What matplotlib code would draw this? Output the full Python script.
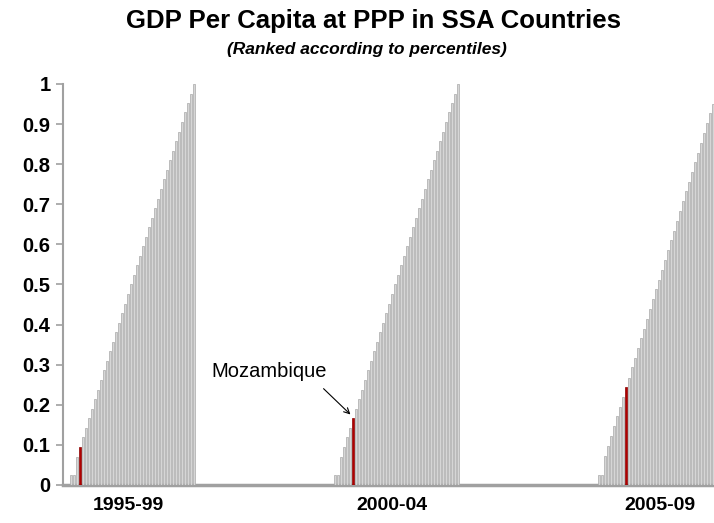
import matplotlib.pyplot as plt

# percentile rank of each SSA country, sorted, one list per period
periods = ['1995-99', '2000-04', '2005-09']
rank_9599 = [0, 0, 0.024, 0.024, 0.071, 0.095, 0.119, 0.143, 0.167, 0.190,
             0.214, 0.238, 0.262, 0.286, 0.310, 0.333, 0.357, 0.381, 0.405, 0.429,
             0.452, 0.476, 0.500, 0.524, 0.548, 0.571, 0.595, 0.619, 0.643, 0.667,
             0.690, 0.714, 0.738, 0.762, 0.786, 0.810, 0.833, 0.857, 0.881, 0.905,
             0.929, 0.952, 0.976, 1.000]
rank_0004 = [0, 0, 0.024, 0.024, 0.071, 0.095, 0.119, 0.143, 0.167, 0.190,
             0.214, 0.238, 0.262, 0.286, 0.310, 0.333, 0.357, 0.381, 0.405, 0.429,
             0.452, 0.476, 0.500, 0.524, 0.548, 0.571, 0.595, 0.619, 0.643, 0.667,
             0.690, 0.714, 0.738, 0.762, 0.786, 0.810, 0.833, 0.857, 0.881, 0.905,
             0.929, 0.952, 0.976, 1.000]
rank_0509 = [0, 0, 0.024, 0.024, 0.073, 0.098, 0.122, 0.146, 0.171, 0.195,
             0.220, 0.244, 0.268, 0.293, 0.317, 0.341, 0.366, 0.390, 0.415, 0.439,
             0.463, 0.488, 0.512, 0.537, 0.561, 0.585, 0.610, 0.634, 0.659, 0.683,
             0.707, 0.732, 0.756, 0.780, 0.805, 0.829, 0.854, 0.878, 0.902, 0.927,
             0.951, 0.976, 1.000]
# position of Mozambique inside each sorted list
mozambique_idx = [5, 8, 11]

series = [rank_9599, rank_0004, rank_0509]
slots_per_period = 88   # bars + empty gap between periods
label_slot = [21, 21, 22.5]

fig = plt.figure(figsize=(7.14, 5.23), dpi=100)
ax = fig.add_axes([0.0882, 0.0727, 0.9118, 0.7667])

for p, vals in enumerate(series):
    start = p * slots_per_period
    xs = [start + i for i in range(len(vals))]
    cols = ['#D6D6D6'] * len(vals)
    edges = ['#A8A8A8'] * len(vals)
    cols[mozambique_idx[p]] = '#B00000'
    edges[mozambique_idx[p]] = '#8A0000'
    ax.bar(xs, vals, width=0.82, color=cols, edgecolor=edges, linewidth=0.5, zorder=3)

ax.set_xlim(-0.75, 216.4)
ax.set_ylim(0, 1.0)

ax.set_xticks([p * slots_per_period + label_slot[p] for p in range(3)])
ax.set_xticklabels(periods, fontsize=14, fontweight='bold', family='Liberation Sans')
ax.tick_params(axis='x', length=0, pad=9)

yt = [i / 10 for i in range(11)]
ax.set_yticks(yt)
ax.set_yticklabels(['0'] + ['%.1f' % v for v in yt[1:-1]] + ['1'],
                   fontsize=14.5, fontweight='bold', family='Liberation Sans')
ax.tick_params(axis='y', length=5, width=1.2, color='#A0A0A0', pad=4)

for s in ['top', 'right']:
    ax.spines[s].set_visible(False)
ax.spines['left'].set_color('#A0A0A0')
ax.spines['left'].set_linewidth(1.5)
ax.spines['bottom'].set_color('#A0A0A0')
ax.spines['bottom'].set_linewidth(2.5)

# Mozambique callout on the 2000-04 bar
moz_x = slots_per_period + mozambique_idx[1]
moz_y = rank_0004[mozambique_idx[1]]
ax.text(67.9, 0.282, 'Mozambique', fontsize=14.5, family='Liberation Sans',
        ha='center', va='center')
ax.annotate('', xy=(moz_x - 0.2, moz_y + 0.004), xytext=(85.5, 0.245),
            arrowprops=dict(arrowstyle='->', color='black', lw=0.8))

fig.text(0.523, 0.960, 'GDP Per Capita at PPP in SSA Countries', fontsize=18.5,
         fontweight='bold', family='Liberation Sans', ha='center', va='center')
fig.text(0.514, 0.906, '(Ranked according to percentiles)', fontsize=12.5,
         fontweight='bold', style='italic', family='Liberation Sans',
         ha='center', va='center')

fig.savefig('out.png', dpi=100)
